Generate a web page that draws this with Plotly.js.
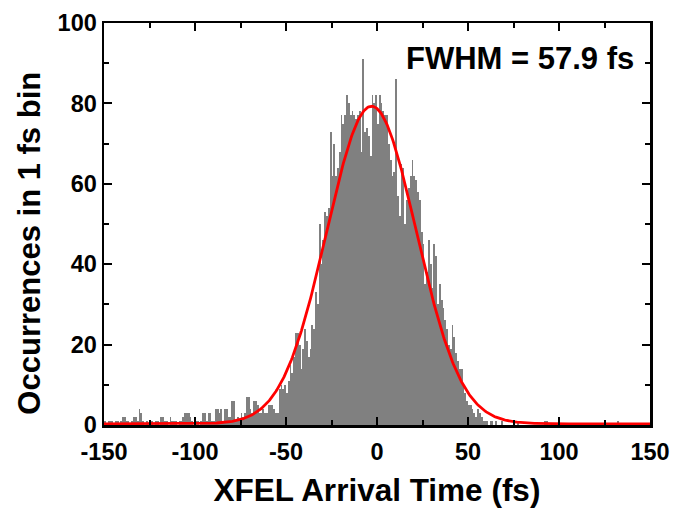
<!DOCTYPE html>
<html>
<head>
<meta charset="utf-8">
<script src="https://cdn.plot.ly/plotly-3.0.1.min.js"></script>
<style>html,body{margin:0;padding:0;background:#fff;}#chart{width:674px;height:508px;}</style>
</head>
<body>
<div id="chart"></div>
<script>
// Histogram: 1 fs bins starting at -150 fs
const binStart = -150;
const binWidth = 1;
const countsTailLeft = [ // -150 .. -76
  1,0,1,1,1,0,1,1,0,1,
  2,2,1,1,0,1,2,2,1,4,
  3,1,0,1,0,1,1,0,1,1,
  0,2,2,1,1,0,2,1,1,1,
  0,1,1,2,3,3,3,2,1,0,
  1,1,0,1,3,3,1,3,3,1,
  1,4,4,3,4,1,4,4,2,2,
  6,6,1,2,1
];
const countsRise = [ // -75 .. -16
  3,2,3,7,7,4,3,6,6,5,
  3,3,4,3,3,5,5,5,4,3,
  3,9,10,9,10,8,11,15,13,17,
  23,23,20,14,19,24,21,17,19,25,
  24,33,30,50,40,46,53,52,54,73,
  62,70,62,64,68,77,75,77,82,80
];
const countsPeak = [ // -15 .. 44
  77,78,77,76,77,78,68,91,73,74,
  72,67,82,80,82,75,82,80,78,77,
  77,70,66,62,63,86,57,52,65,64,
  50,56,59,62,66,62,61,58,56,48,
  45,35,38,46,40,34,45,42,30,35,
  31,29,26,24,20,19,25,22,18,16
];
const countsTailRight = [ // 45 .. 149
  14,14,10,8,6,5,5,4,3,2,
  4,3,2,1,1,1,0,1,1,0,
  1,0,0,1,0,0,0,0,0,0,
  0,0,1,0,0,0,0,0,0,0,
  0,0,0,0,0,0,0,1,1,0,
  0,0,0,0,0,0,0,0,0,0,
  0,0,0,0,0,0,0,0,0,0,
  0,0,0,0,0,0,0,0,0,0,
  0,0,0,0,0,0,0,1,0,0,
  0,0,0,0,0,0,0,0,0,0,
  0,0,0,0,0
];
// Gaussian fit parameters
const fitCenter = -3;
const fitFWHM = 57.9;
const fitAmplitude = 79;
const fitOffset = 0.3;

const xTickVals = [-150,-100,-50,0,50,100,150];
const xTickText = ['-150','-100','-50','0','50','100','150'];
const yTickVals = [0,20,40,60,80,100];
const yTickText = ['0','20','40','60','80','100'];

const counts = countsTailLeft.concat(countsRise, countsPeak, countsTailRight);
const binCenters = counts.map((_, i) => binStart + binWidth * (i + 0.5));

const sigma = fitFWHM / (2 * Math.sqrt(2 * Math.log(2)));
const fitX = [], fitY = [];
for (let x = -150; x <= 150; x += 0.5) {
  fitX.push(x);
  fitY.push(fitOffset + fitAmplitude * Math.exp(-Math.pow(x - fitCenter, 2) / (2 * sigma * sigma)));
}

const FONT = '"Liberation Sans", Arial, sans-serif';

const data = [
  {type: 'bar', x: binCenters, y: counts, width: binWidth,
   marker: {color: '#808080', line: {width: 0}}, hoverinfo: 'skip'},
  {type: 'scatter', mode: 'lines', x: fitX, y: fitY,
   line: {color: '#ff0000', width: 2.8}, hoverinfo: 'skip'}
];

const axisCommon = {
  showgrid: false, zeroline: false, showline: true, linecolor: '#000', linewidth: 2.5,
  mirror: 'allticks', ticks: 'inside', ticklen: 8, tickwidth: 2, tickcolor: '#000',
  tickfont: {family: FONT, size: 23.5, color: '#000', weight: 'bold'}
};

const layout = {
  width: 674, height: 508,
  margin: {l: 104, r: 24, t: 23, b: 83},
  paper_bgcolor: '#fff', plot_bgcolor: '#fff',
  showlegend: false, bargap: 0,
  xaxis: Object.assign({}, axisCommon, {
    range: [-150, 150], tickmode: 'array', tickvals: xTickVals, ticktext: xTickText,
    ticklabelstandoff: 4,
    minor: {dtick: 25, tick0: -150, ticks: 'inside', ticklen: 5, tickwidth: 2, tickcolor: '#000'},
    title: {text: 'XFEL Arrival Time (fs)', standoff: 15,
            font: {family: FONT, size: 31.5, color: '#000', weight: 'bold'}}
  }),
  yaxis: Object.assign({}, axisCommon, {
    range: [0, 100], tickmode: 'array', tickvals: yTickVals, ticktext: yTickText,
    minor: {dtick: 10, tick0: 0, ticks: 'inside', ticklen: 5, tickwidth: 2, tickcolor: '#000'}
  }),
  annotations: [{
    text: 'FWHM = 57.9 fs', xref: 'x', yref: 'y', x: 142.3, y: 91.2,
    xanchor: 'right', yanchor: 'middle', showarrow: false,
    font: {family: FONT, size: 31, color: '#000', weight: 'bold'}
  }, {
    text: 'Occurrences in 1 fs bin', xref: 'paper', yref: 'paper',
    x: -0.136, y: 0.453, xanchor: 'center', yanchor: 'middle', textangle: -90,
    showarrow: false,
    font: {family: FONT, size: 31, color: '#000', weight: 'bold'}
  }]
};

Plotly.newPlot('chart', data, layout, {staticPlot: true, displayModeBar: false});
</script>
</body>
</html>
